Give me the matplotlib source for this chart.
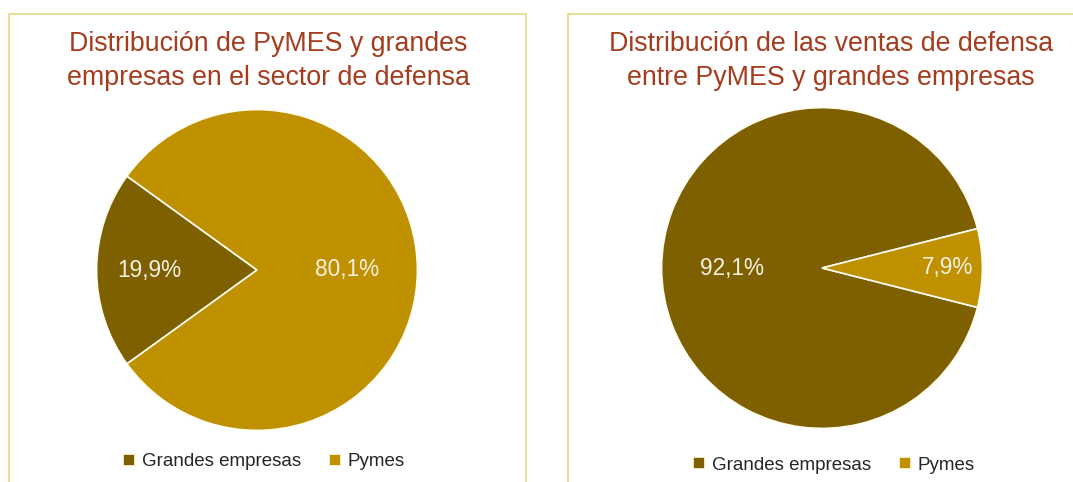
import matplotlib
matplotlib.use('Agg')
import matplotlib.pyplot as plt
from matplotlib.patches import Rectangle
import numpy as np

plt.rcParams.update({
    'font.family': ['Liberation Sans', 'DejaVu Sans'],
})

CATEGORIES = ['Grandes empresas', 'Pymes']
EMPRESAS_PCT = [19.9, 80.1]
VENTAS_PCT = [92.1, 7.9]
TITLES = ['Distribución de PyMES y grandes\nempresas en el sector de defensa',
          'Distribución de las ventas de defensa\nentre PyMES y grandes empresas']

DARK_GOLD = '#7F6000'
GOLD = '#BF9000'
TITLE_C = '#A53C1E'
BORDER = '#E6DC8C'
LABEL_C = '#F4F1E4'

W, H = 1073, 482
fig = plt.figure(figsize=(W / 100, H / 100), dpi=100)
fig.patch.set_facecolor('white')


def px(x, y):
    return x / W, 1 - y / H


# panel frames (bottom / right edges run off the picture)
for x0, x1 in [(9, 526), (568, 1090)]:
    fig.patches.append(Rectangle((x0 / W, -0.1), (x1 - x0) / W, 1 - 14 / H + 0.1,
                                 transform=fig.transFigure, facecolor='white',
                                 edgecolor=BORDER, lw=1.3, zorder=-5))


def draw_pie(cx, cy, values, start, label_r, title, title_x, legend_x, legend_y):
    r = 162
    ax = fig.add_axes([(cx - r) / W, (H - cy - r) / H, 2 * r / W, 2 * r / H])
    ax.set_zorder(2)
    wedges, texts, autotexts = ax.pie(
        values, colors=[DARK_GOLD, GOLD], startangle=start, counterclock=True,
        autopct=lambda p: f'{p:.1f}%'.replace('.', ','), pctdistance=0.6,
        wedgeprops=dict(edgecolor='#FFFDF0', linewidth=1.2),
        textprops=dict(color=LABEL_C, fontsize=16.3))
    for w, t, lr in zip(wedges, autotexts, label_r):
        ang = np.deg2rad((w.theta1 + w.theta2) / 2)
        t.set_position((lr * np.cos(ang), lr * np.sin(ang)))
    ax.set_xlim(-1.01, 1.01)
    ax.set_ylim(-1.01, 1.01)
    ax.set_aspect('equal')

    tx, ty = px(title_x, 61)
    fig.text(tx, ty, title, ha='center', va='center', fontsize=19.3,
             color=TITLE_C, linespacing=1.42)

    lx, ly = px(legend_x, legend_y)
    fig.legend(wedges, CATEGORIES, loc='center', bbox_to_anchor=(lx, ly),
               ncol=2, frameon=False, fontsize=13.5, handlelength=0.65,
               handleheight=0.65, handletextpad=0.35, columnspacing=1.5,
               labelcolor='#262626')


draw_pie(257, 270, EMPRESAS_PCT, 180 - EMPRESAS_PCT[0] * 1.8, [0.67, 0.56],
         TITLES[0], 268, 264, 462)
draw_pie(822, 268, VENTAS_PCT, VENTAS_PCT[1] * 1.8, [0.56, 0.78],
         TITLES[1], 831, 834, 465)

fig.savefig('out.png', dpi=100, facecolor='white')
